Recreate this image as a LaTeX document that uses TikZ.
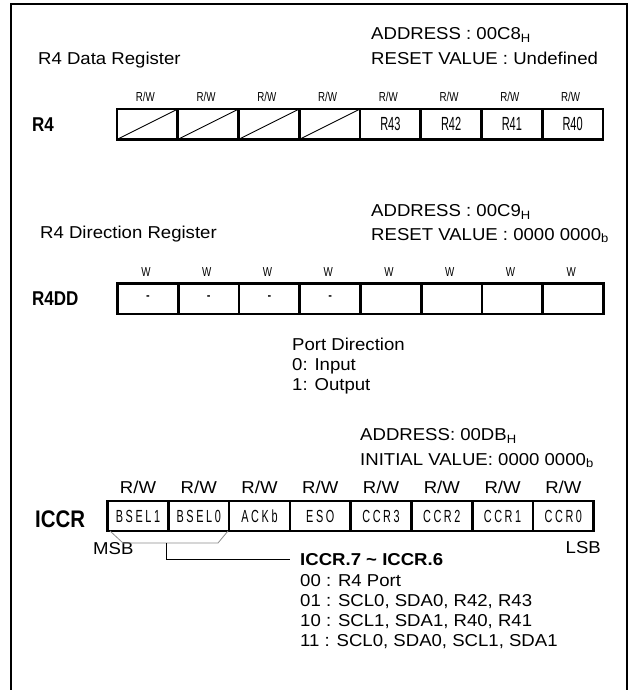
\documentclass[tikz,border=0pt]{standalone}
\usepackage{fontspec}
\setmainfont{Liberation Sans}
\newfontfamily\mainf[FakeStretch=1.08]{Liberation Sans}
\newfontfamily\narrowf[FakeStretch=0.75]{Liberation Sans}
\newfontfamily\cellf[FakeStretch=0.58]{Liberation Sans}
\newfontfamily\iccrf[FakeStretch=0.62,LetterSpace=15]{Liberation Sans}
\newfontfamily\labf[FakeStretch=0.85]{Liberation Sans}
\begin{document}
\begin{tikzpicture}[x=1pt,y=-1pt,
  txt/.style={anchor=base west, inner sep=0pt, font=\mainf\fontsize{17.2}{19}\selectfont},
  txtb/.style={txt, font=\mainf\bfseries\fontsize{17.2}{19}\selectfont},
  acc/.style={anchor=base, inner sep=0pt, font=\narrowf\fontsize{13}{15}\selectfont},
  accm/.style={anchor=base, inner sep=0pt, font=\mainf\fontsize{17.2}{19}\selectfont},
  cell/.style={draw, line width=2.7pt, minimum width=60.75pt, minimum height=30.5pt,
    inner sep=0pt, outer sep=0pt, anchor=north west, font=\cellf\fontsize{19}{21}\selectfont},
  icell/.style={cell, minimum height=30pt, font=\iccrf\fontsize{17.5}{19}\selectfont},
  regname/.style={anchor=base west, inner sep=0pt, font=\labf\bfseries\fontsize{20}{22}\selectfont},
  slash/.style={line width=0.9pt},
  frame/.style={line width=1.8pt},
  brk/.style={draw=black!45, line width=0.8pt},
  lead/.style={line width=0.9pt}]
\useasboundingbox (0,0) rectangle (632,690);
% outer frame (open at the bottom)
\draw[frame] (11,690) -- (11,4) -- (627,4) -- (627,690);

% ---------------- R4 data register ----------------
\node[txt] (t1) at (38,64.5) {R4 Data Register};
\node[txt] (ad1) at (371,40) {ADDRESS : 00C8\textsubscript{H}};
\node[txt] (rv1) at (371,65) {RESET VALUE : Undefined};
\node[regname] (r4) at (32,131.5) {R4};
\foreach \i/\t in {0/{},1/{},2/{},3/{},4/R43,5/R42,6/R41,7/R40}{
  \node[cell] (a\i) at ({117+\i*60.75},109) {\t};
  \node[acc] (aw\i) at ({145.4+\i*60.75},101.7) {R/W};
}
\foreach \i in {0,1,2,3}{
  \draw[slash] (a\i.south west) -- (a\i.north east);
}

% ---------------- R4 direction register ----------------
\node[txt] (t2) at (40,238.5) {R4 Direction Register};
\node[txt] (ad2) at (371,216.7) {ADDRESS : 00C9\textsubscript{H}};
\node[txt] (rv2) at (371,240) {RESET VALUE : 0000 0000\textsubscript{b}};
\node[regname] (r4dd) at (32,305) {R4DD};
\foreach \i/\t in {0/-,1/-,2/-,3/-,4/{},5/{},6/{},7/{}}{
  \node[cell] (d\i) at ({117.5+\i*60.75},283.5) {\t};
  \node[acc] (dw\i) at ({145.9+\i*60.75},276.7) {W};
}
\node[txt] (pd) at (292,350) {Port Direction};
\node[txt] (pd0) at (292,370) {0: Input};
\node[txt] (pd1) at (292,390) {1: Output};

% ---------------- ICCR ----------------
\node[txt] (ad3) at (360,440.7) {ADDRESS: 00DB\textsubscript{H}};
\node[txt] (iv3) at (360,465) {INITIAL VALUE: 0000 0000\textsubscript{b}};
\node[regname, font=\labf\bfseries\fontsize{24}{26}\selectfont] (iccr) at (35,527) {ICCR};
\foreach \i/\t in {0/BSEL1,1/BSEL0,2/ACKb,3/ESO,4/CCR3,5/CCR2,6/CCR1,7/CCR0}{
  \node[icell] (c\i) at ({107.6+\i*60.76},501) {\t};
  \node[accm] (cw\i) at ({138+\i*60.76},493.3) {R/W};
}
\node[txt] (msb) at (93,554.3) {MSB};
\node[txt, anchor=base east] (lsb) at (601,553) {LSB};

\coordinate (k1) at (110,531);
\coordinate (k2) at (123,543);
\coordinate (k3) at (218,543);
\coordinate (k4) at (228,531);
\draw[brk] (k1) -- (k2) -- (k3) -- (k4);
\coordinate (l1) at (166,543);
\coordinate (l2) at (166,559.3);
\coordinate (l3) at (290,559.3);
\draw[lead] (l1) -- (l2) -- (l3);

\node[txtb] (h) at (300,565) {ICCR.7 \char`~\ ICCR.6};
\node[txt] (o0) at (300,586) {00 : R4 Port};
\node[txt] (o1) at (300,606.5) {01 : SCL0, SDA0, R42, R43};
\node[txt] (o2) at (300,626.5) {10 : SCL1, SDA1, R40, R41};
\node[txt] (o3) at (300,646.5) {11 : SCL0, SDA0, SCL1, SDA1};
\end{tikzpicture}
\end{document}
